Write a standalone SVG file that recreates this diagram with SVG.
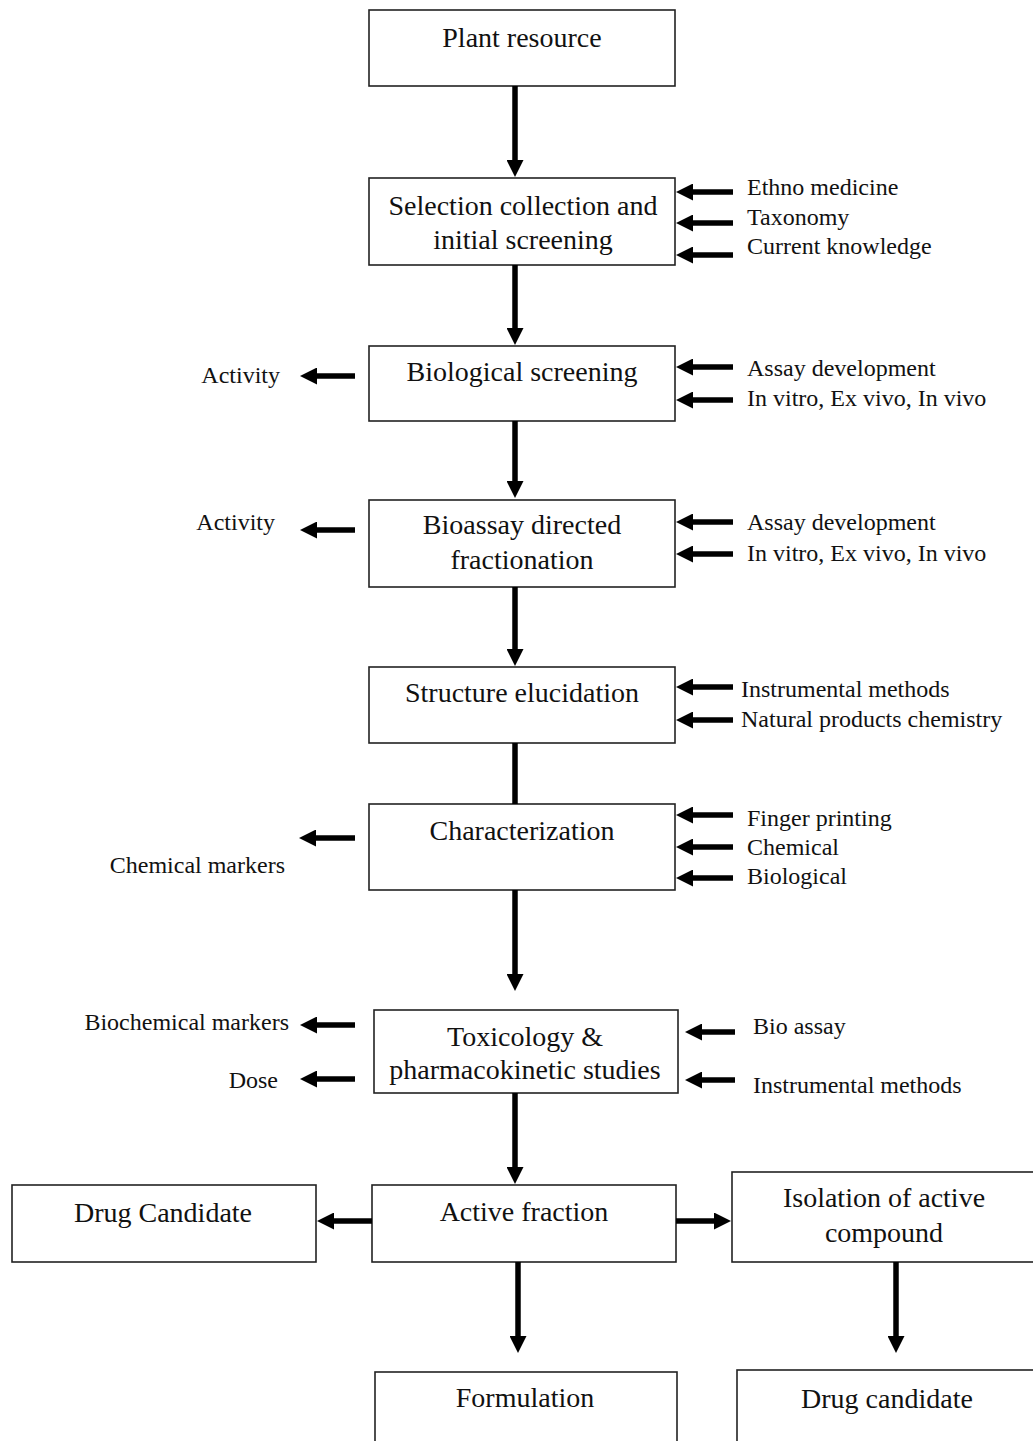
<svg xmlns="http://www.w3.org/2000/svg" width="1033" height="1441" viewBox="0 0 1033 1441">
<style>
.box{fill:#fff;stroke:#222;stroke-width:1.6}
.lbl{font-family:"Liberation Serif","Times New Roman",serif;font-size:28px;text-anchor:middle;fill:#111}
.side{font-family:"Liberation Serif","Times New Roman",serif;font-size:24px;fill:#111}
.end{text-anchor:end}
.arr{stroke:#000;stroke-width:5.5;fill:none;marker-end:url(#ah)}
.plain{stroke:#000;stroke-width:5.5;fill:none}
</style>
<defs>
<marker id="ah" markerUnits="userSpaceOnUse" viewBox="0 0 17 17" refX="0" refY="8.5" markerWidth="17" markerHeight="17" orient="auto">
<path d="M0,0 L17,8.5 L0,17 Z" fill="#000"/>
</marker>
</defs>
<rect width="1033" height="1441" fill="#fff"/>

<g id="plant-resource"><rect class="box" x="369" y="10" width="306" height="76"/><text class="lbl" x="522" y="47">Plant resource</text></g>
<g id="selection"><rect class="box" x="369" y="178" width="306" height="87"/><text class="lbl" x="523" y="215">Selection collection and</text><text class="lbl" x="523" y="249">initial screening</text></g>
<g id="biological-screening"><rect class="box" x="369" y="346" width="306" height="75"/><text class="lbl" x="522" y="381">Biological screening</text></g>
<g id="bioassay"><rect class="box" x="369" y="500" width="306" height="87"/><text class="lbl" x="522" y="534">Bioassay directed</text><text class="lbl" x="522" y="569">fractionation</text></g>
<g id="structure"><rect class="box" x="369" y="667" width="306" height="76"/><text class="lbl" x="522" y="702">Structure elucidation</text></g>
<g id="characterization"><rect class="box" x="369" y="804" width="306" height="86"/><text class="lbl" x="522" y="840">Characterization</text></g>
<g id="toxicology"><rect class="box" x="374" y="1010" width="304" height="83"/><text class="lbl" x="525" y="1046">Toxicology &amp;</text><text class="lbl" x="525" y="1079">pharmacokinetic studies</text></g>
<g id="active-fraction"><rect class="box" x="372" y="1185" width="304" height="77"/><text class="lbl" x="524" y="1221">Active fraction</text></g>
<g id="drug-candidate-left"><rect class="box" x="12" y="1185" width="304" height="77"/><text class="lbl" x="163" y="1222">Drug Candidate</text></g>
<g id="isolation"><rect class="box" x="732" y="1172" width="310" height="90"/><text class="lbl" x="884" y="1207">Isolation of active</text><text class="lbl" x="884" y="1242">compound</text></g>
<g id="formulation"><rect class="box" x="375" y="1372" width="302" height="80"/><text class="lbl" x="525" y="1407">Formulation</text></g>
<g id="drug-candidate-right"><rect class="box" x="737" y="1370" width="310" height="82"/><text class="lbl" x="887" y="1408">Drug candidate</text></g>

<g id="side-labels">
<text class="side" x="747" y="195">Ethno medicine</text>
<text class="side" x="747" y="225">Taxonomy</text>
<text class="side" x="747" y="254">Current knowledge</text>
<text class="side end" x="280" y="383">Activity</text>
<text class="side" x="747" y="376">Assay development</text>
<text class="side" x="747" y="406">In vitro, Ex vivo, In vivo</text>
<text class="side end" x="275" y="530">Activity</text>
<text class="side" x="747" y="530">Assay development</text>
<text class="side" x="747" y="561">In vitro, Ex vivo, In vivo</text>
<text class="side" x="741" y="697">Instrumental methods</text>
<text class="side" x="741" y="727">Natural products chemistry</text>
<text class="side" x="747" y="826">Finger printing</text>
<text class="side" x="747" y="855">Chemical</text>
<text class="side" x="747" y="884">Biological</text>
<text class="side end" x="285" y="873">Chemical markers</text>
<text class="side end" x="289" y="1030">Biochemical markers</text>
<text class="side end" x="278" y="1088">Dose</text>
<text class="side" x="753" y="1034">Bio assay</text>
<text class="side" x="753" y="1093">Instrumental methods</text>
</g>

<g id="connectors">
<line class="arr" x1="515" y1="86" x2="515" y2="160"/>
<line class="arr" x1="515" y1="265" x2="515" y2="328"/>
<line class="arr" x1="515" y1="421" x2="515" y2="481"/>
<line class="arr" x1="515" y1="587" x2="515" y2="649"/>
<line class="plain" x1="515" y1="743" x2="515" y2="804"/>
<line class="arr" x1="515" y1="890" x2="515" y2="974"/>
<line class="arr" x1="515" y1="1093" x2="515" y2="1167"/>
<line class="arr" x1="518" y1="1262" x2="518" y2="1336"/>
<line class="arr" x1="896" y1="1262" x2="896" y2="1336"/>
<line class="arr" x1="372" y1="1221" x2="334" y2="1221"/>
<line class="arr" x1="676" y1="1221" x2="714" y2="1221"/>

<line class="arr" x1="733" y1="192" x2="693" y2="192"/>
<line class="arr" x1="733" y1="223" x2="693" y2="223"/>
<line class="arr" x1="733" y1="255" x2="693" y2="255"/>
<line class="arr" x1="733" y1="367" x2="693" y2="367"/>
<line class="arr" x1="733" y1="400" x2="693" y2="400"/>
<line class="arr" x1="733" y1="522" x2="693" y2="522"/>
<line class="arr" x1="733" y1="554" x2="693" y2="554"/>
<line class="arr" x1="733" y1="687" x2="693" y2="687"/>
<line class="arr" x1="733" y1="720" x2="693" y2="720"/>
<line class="arr" x1="733" y1="815" x2="693" y2="815"/>
<line class="arr" x1="733" y1="847" x2="693" y2="847"/>
<line class="arr" x1="733" y1="878" x2="693" y2="878"/>
<line class="arr" x1="735" y1="1032" x2="702" y2="1032"/>
<line class="arr" x1="735" y1="1080" x2="702" y2="1080"/>

<line class="arr" x1="355" y1="376" x2="317" y2="376"/>
<line class="arr" x1="355" y1="530" x2="317" y2="530"/>
<line class="arr" x1="355" y1="838" x2="316" y2="838"/>
<line class="arr" x1="355" y1="1025" x2="317" y2="1025"/>
<line class="arr" x1="355" y1="1079" x2="317" y2="1079"/>
</g>
</svg>
